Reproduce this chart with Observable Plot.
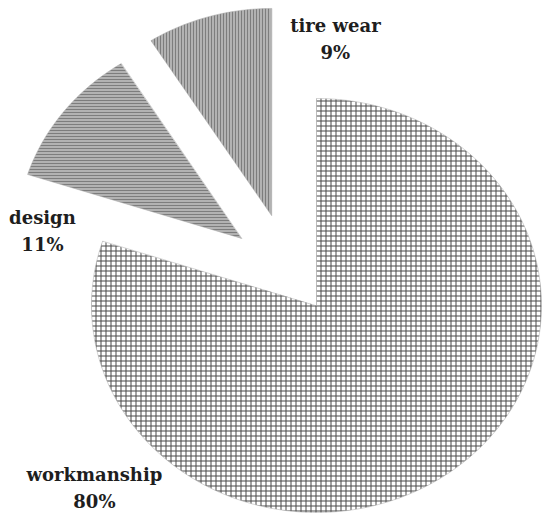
<!DOCTYPE html>
<html>
<head>
<meta charset="utf-8">
<script src="https://cdn.jsdelivr.net/npm/d3@7"></script>
<script src="https://cdn.jsdelivr.net/npm/@observablehq/plot@0.6"></script>
<style>
  html, body { margin: 0; padding: 0; background: #fff; }
  #chart { width: 544px; height: 514px; }
</style>
</head>
<body>
<div id="chart"></div>
<script>
// ---- data ----
const categories = ["workmanship", "design", "tire wear"];
const shares = [80, 11, 9];

// ---- layout (data units: pie radius = 1) ----
const explode = [[0, 0], [-0.333, 0.324], [-0.2, 0.435]];
const labelAt = [[-0.987, -0.872], [-1.218, 0.37], [0.084, 1.297]];
const patternIds = ["pat-cross", "pat-hlines", "pat-vlines"];

// build slice polygons from the pie layout
const arcs = d3.pie().sort(null).startAngle(0).endAngle(2 * Math.PI)(shares);
const slicePts = [];
arcs.forEach((a, i) => {
  const [ox, oy] = explode[i];
  const steps = Math.max(2, Math.ceil((a.endAngle - a.startAngle) / (Math.PI / 180)));
  slicePts.push({cat: categories[i], x: ox, y: oy});
  for (let k = 0; k <= steps; k++) {
    const t = a.startAngle + (a.endAngle - a.startAngle) * k / steps;
    slicePts.push({cat: categories[i], x: ox + Math.sin(t), y: oy + Math.cos(t)});
  }
});

const labels = categories.map((c, i) => ({
  text: `${c}\n${shares[i]}%`, x: labelAt[i][0], y: labelAt[i][1]
}));

const W = 544, H = 514, cx = 316, cy = 305, rx = 225, ry = 207;

const chart = Plot.plot({
  width: W,
  height: H,
  margin: 0,
  x: {domain: [(0 - cx) / rx, (W - cx) / rx], range: [0, W], axis: null},
  y: {domain: [(cy - H) / ry, cy / ry], range: [H, 0], axis: null},
  marks: [
    ...categories.map((c, i) => Plot.line(slicePts.filter(d => d.cat === c), {
      x: "x", y: "y", curve: "linear-closed",
      fill: `url(#${patternIds[i]})`, stroke: "#aaa", strokeWidth: 0.5
    })),
    Plot.text(labels, {
      x: "x", y: "y", text: "text", textAnchor: "middle", lineAnchor: "middle",
      lineHeight: 1.5, fontSize: 18, fontWeight: "bold",
      fontFamily: "DejaVu Serif", fill: "#1e1e1e"
    })
  ]
});

// patterns
const svg = d3.select(chart);
const defs = svg.insert("defs", ":first-child");
const cross = defs.append("pattern").attr("id", "pat-cross")
  .attr("patternUnits", "userSpaceOnUse").attr("width", 5).attr("height", 5);
cross.append("rect").attr("width", 5).attr("height", 5).attr("fill", "#fff");
cross.append("path").attr("d", "M0 0.5H5M0.5 0V5").attr("stroke", "#4a4a4a").attr("stroke-width", 1);

const hl = defs.append("pattern").attr("id", "pat-hlines")
  .attr("patternUnits", "userSpaceOnUse").attr("width", 6).attr("height", 3);
hl.append("rect").attr("width", 6).attr("height", 3).attr("fill", "#e6e6e6");
hl.append("path").attr("d", "M0 1H6").attr("stroke", "#444").attr("stroke-width", 1.3);

const vl = defs.append("pattern").attr("id", "pat-vlines")
  .attr("patternUnits", "userSpaceOnUse").attr("width", 3).attr("height", 6);
vl.append("rect").attr("width", 3).attr("height", 6).attr("fill", "#e6e6e6");
vl.append("path").attr("d", "M1 0V6").attr("stroke", "#444").attr("stroke-width", 1.3);

document.getElementById("chart").appendChild(chart);
</script>
</body>
</html>
